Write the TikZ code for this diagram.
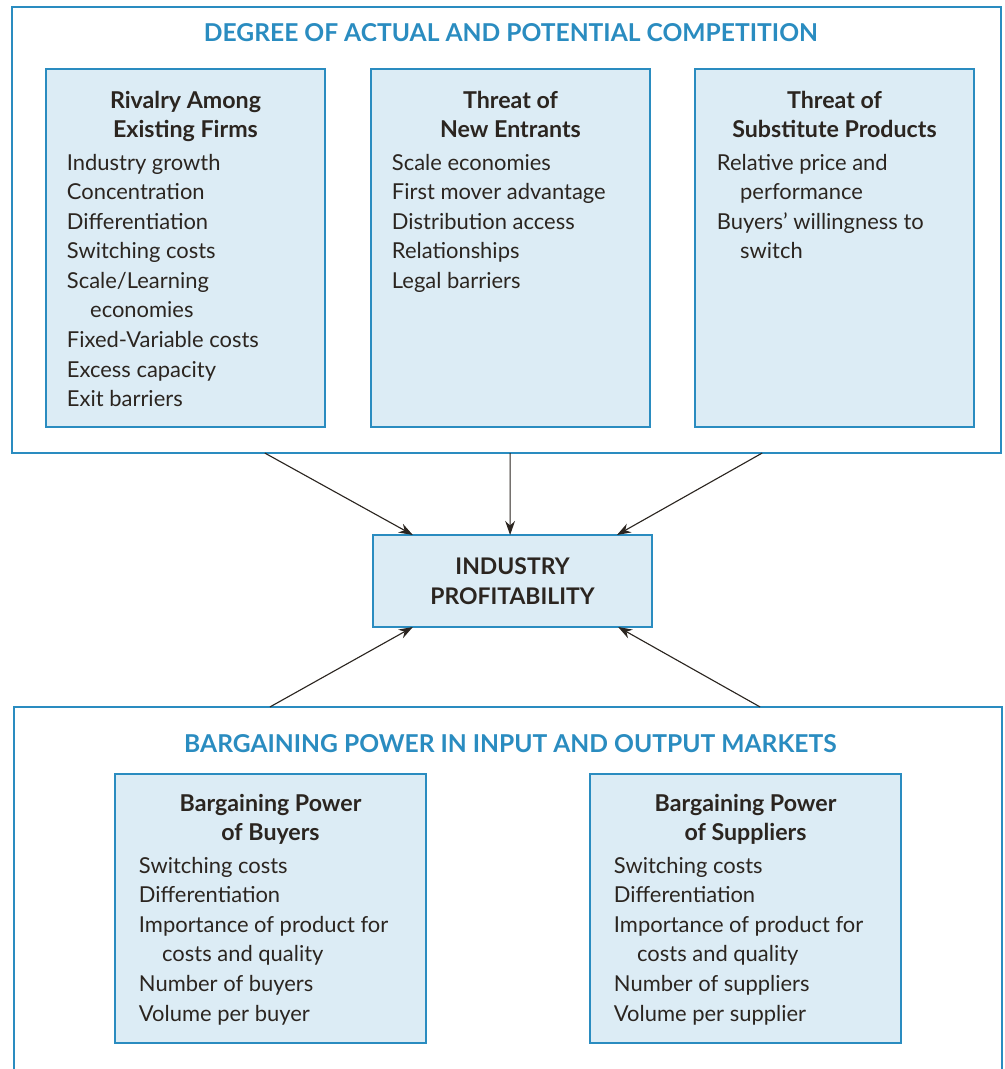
\documentclass[tikz,border=0pt]{standalone}
\usepackage{fontspec}
\setmainfont{Lato}
\usetikzlibrary{positioning, arrows.meta}
\definecolor{FS_Blue}{HTML}{2A8CC0}
\definecolor{FS_Pale}{HTML}{DCECF5}
\definecolor{FS_Ink}{HTML}{2B2520}
\newcommand{\wrapind}{\hspace*{0.58cm}}

\begin{document}
\begin{tikzpicture}[
  x=0.025cm, y=-0.025cm,
  every node/.style={inner sep=0pt, outer sep=0pt, text=FS_Ink},
  outerbox/.style={draw=FS_Blue, line width=1.3pt, minimum width=24.725cm, minimum height=11.15cm},
  factor/.style={draw=FS_Blue, line width=1.3pt, fill=FS_Pale, minimum width=6.975cm, minimum height=8.95cm},
  power/.style={factor, minimum width=7.775cm, minimum height=6.725cm},
  profit/.style={factor, minimum height=2.3cm, font=\fontsize{16.3}{21}\selectfont\bfseries, align=center},
  head/.style={font=\fontsize{16.5}{21}\selectfont\bfseries, align=center, anchor=north},
  items/.style={font=\fontsize{15.6}{21}\selectfont, align=left, anchor=north west},
  title/.style={font=\fontsize{17.5}{20}\selectfont\bfseries, text=FS_Blue, anchor=north},
  arr/.style={-{Stealth[length=10pt, width=7pt]}, line width=0.8pt, FS_Ink}
]
  \clip (0,0) rectangle (1004,1069);

  % Top: competition
  \node[outerbox] (comp) at (506.5,230) {};
  \node[title] (comptitle) at ([xshift=0.11cm, yshift=-0.42cm]comp.north) {DEGREE OF ACTUAL AND POTENTIAL COMPETITION};

  \node[factor] (rival) at (185.5,248) {};
  \node[factor] (entry) at (510.5,248) {};
  \node[factor] (subst) at (834.5,248) {};

  \node[head] (rivalhead) at ([yshift=-0.55cm]rival.north) {Rivalry Among\\Existing Firms};
  \node[items] (rivalitems) at ([xshift=0.525cm, yshift=-2.13cm]rival.north west) {Industry growth\\Concentration\\Differentiation\\Switching costs\\Scale/Learning\\\wrapind economies\\Fixed-Variable costs\\Excess capacity\\Exit barriers};

  \node[head] (entryhead) at ([yshift=-0.55cm]entry.north) {Threat of\\New Entrants};
  \node[items] (entryitems) at ([xshift=0.525cm, yshift=-2.13cm]entry.north west) {Scale economies\\First mover advantage\\Distribution access\\Relationships\\Legal barriers};

  \node[head] (substhead) at ([yshift=-0.55cm]subst.north) {Threat of\\Substitute Products};
  \node[items] (substitems) at ([xshift=0.55cm, yshift=-2.13cm]subst.north west) {Relative price and\\\wrapind performance\\Buyers' willingness to\\\wrapind switch};

  % Middle
  \node[profit] (prof) at (512.5,581) {INDUSTRY\\PROFITABILITY};

  % Bottom: bargaining power
  \node[outerbox, minimum width=24.7cm, minimum height=9.45cm] (barg) at (508,896) {};
  \node[title] (bargtitle) at ([xshift=0.06cm, yshift=-0.68cm]barg.north) {BARGAINING POWER IN INPUT AND OUTPUT MARKETS};

  \node[power] (buyer) at (270.5,908.5) {};
  \node[power] (supp) at (745.5,908.5) {};

  \node[head] (buyerhead) at ([yshift=-0.5cm]buyer.north) {Bargaining Power\\of Buyers};
  \node[items] (buyeritems) at ([xshift=0.6cm, yshift=-2.08cm]buyer.north west) {Switching costs\\Differentiation\\Importance of product for\\\wrapind costs and quality\\Number of buyers\\Volume per buyer};

  \node[head] (supphead) at ([yshift=-0.5cm]supp.north) {Bargaining Power\\of Suppliers};
  \node[items] (suppitems) at ([xshift=0.6cm, yshift=-2.08cm]supp.north west) {Switching costs\\Differentiation\\Importance of product for\\\wrapind costs and quality\\Number of suppliers\\Volume per supplier};

  % Arrows into profitability
  \draw[arr] ([xshift=-6.04cm]comp.south) -- ([xshift=-2.49cm]prof.north);
  \draw[arr] ([xshift=0.09cm]comp.south) -- ([xshift=-0.06cm]prof.north);
  \draw[arr] ([xshift=6.39cm]comp.south) -- ([xshift=2.61cm]prof.north);
  \draw[arr] ([xshift=-5.95cm]barg.north) -- ([xshift=-2.49cm]prof.south);
  \draw[arr] ([xshift=6.3cm]barg.north) -- ([xshift=2.64cm]prof.south);
\end{tikzpicture}
\end{document}
